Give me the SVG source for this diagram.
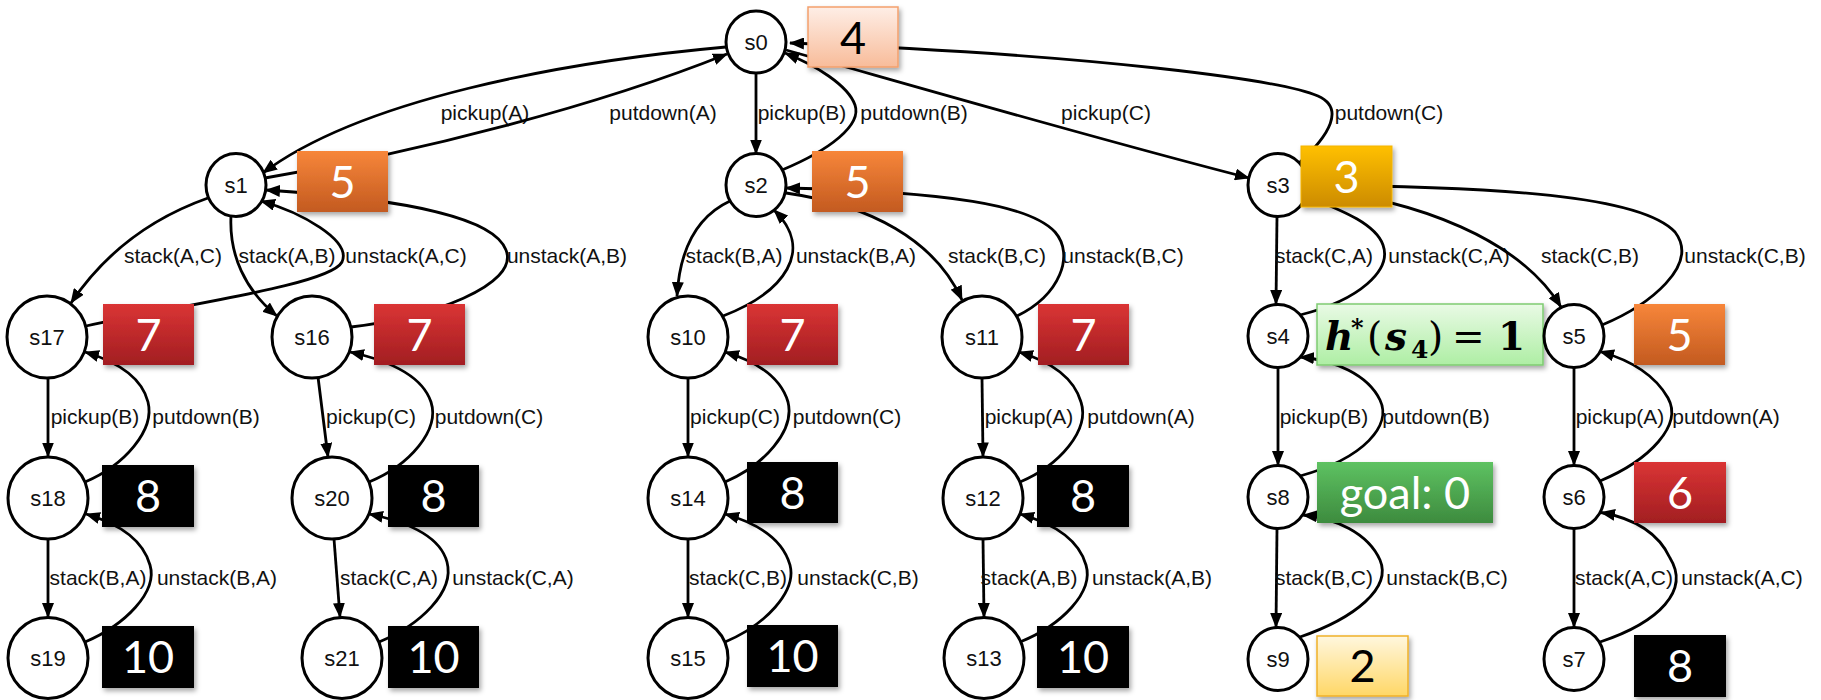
<svg xmlns="http://www.w3.org/2000/svg" width="1821" height="700" viewBox="0 0 1821 700">
  <defs>
    <style>
      .edge { fill: none; stroke: #000; stroke-width: 2.8; marker-end: url(#arr); }
      .lbl { font-family: "Liberation Sans", Arial, sans-serif; font-size: 21px; text-anchor: middle; fill: #111; }
      .st { fill: #fff; stroke: #000; stroke-width: 3; }
      .nlbl { font-family: "Liberation Sans", Arial, sans-serif; font-size: 22px; text-anchor: middle; fill: #111; }
      .box { filter: url(#sh); }
      .val { font-family: Lato, "Open Sans", sans-serif; font-size: 45px; text-anchor: middle; fill: #fff; }
      .dark { fill: #000; }
      .math { font-family: "DejaVu Serif", "Liberation Serif", serif; font-size: 39px; fill: #000; }
      .bi { font-style: italic; font-weight: bold; }
    </style>
    <marker id="arr" markerUnits="userSpaceOnUse" markerWidth="16" markerHeight="12" refX="14" refY="6" orient="auto">
      <path d="M0,0 L15,6 L0,12 z" fill="#000"/>
    </marker>
    <filter id="sh" x="-10%" y="-10%" width="130%" height="140%">
      <feDropShadow dx="2" dy="3" stdDeviation="2.5" flood-color="#000" flood-opacity="0.35"/>
    </filter>
    <linearGradient id="gPeach" x1="0" y1="0" x2="0" y2="1">
      <stop offset="0" stop-color="#FEEEE6"/>
      <stop offset="1" stop-color="#F8BC9A"/>
    </linearGradient>
    <linearGradient id="gOrange" x1="0" y1="0" x2="0" y2="1">
      <stop offset="0" stop-color="#F7863A"/>
      <stop offset="1" stop-color="#C35A20"/>
    </linearGradient>
    <linearGradient id="gGold" x1="0" y1="0" x2="0" y2="1">
      <stop offset="0" stop-color="#FFC000"/>
      <stop offset="1" stop-color="#CC8B00"/>
    </linearGradient>
    <linearGradient id="gRed" x1="0" y1="0" x2="0" y2="1">
      <stop offset="0" stop-color="#DA3434"/>
      <stop offset="1" stop-color="#A21E22"/>
    </linearGradient>
    <linearGradient id="gMint" x1="0" y1="0" x2="0" y2="1">
      <stop offset="0" stop-color="#E9FAE5"/>
      <stop offset="1" stop-color="#AEEEA4"/>
    </linearGradient>
    <linearGradient id="gGreen" x1="0" y1="0" x2="0" y2="1">
      <stop offset="0" stop-color="#5EC262"/>
      <stop offset="1" stop-color="#3D8B3E"/>
    </linearGradient>
    <linearGradient id="gCream" x1="0" y1="0" x2="0" y2="1">
      <stop offset="0" stop-color="#FFF7DE"/>
      <stop offset="1" stop-color="#FFD766"/>
    </linearGradient>
  </defs>

  <rect width="1821" height="700" fill="#fff"/>

  <!-- transitions between states -->
  <g id="connectors">
    <path class="edge" d="M726,47 C560,62 360,100 263,173"/>
    <text class="lbl" x="485" y="120">pickup(A)</text>
    <path class="edge" d="M265,178 C420,152 600,105 727,54"/>
    <text class="lbl" x="663" y="120">putdown(A)</text>
    <path class="edge" d="M756,73.5 L756,153.5"/>
    <text class="lbl" x="802" y="120">pickup(B)</text>
    <path class="edge" d="M782,170 C830,150 862,125 855,105 C848,85 815,65 785,53"/>
    <text class="lbl" x="914" y="120">putdown(B)</text>
    <path class="edge" d="M786,50 C900,82 1100,140 1249,178"/>
    <text class="lbl" x="1106" y="120">pickup(C)</text>
    <path class="edge" d="M1299,163 C1330,135 1345,108 1318,96 C1280,80 1100,55 790,43"/>
    <text class="lbl" x="1389" y="120">putdown(C)</text>

    <path class="edge" d="M208,198 C160,215 110,245 71,303"/>
    <text class="lbl" x="173" y="263">stack(A,C)</text>
    <path class="edge" d="M231,216 C229,255 245,290 277,316"/>
    <text class="lbl" x="287" y="263">stack(A,B)</text>
    <path class="edge" d="M86,326 C180,305 330,285 342,262 C352,240 300,212 261,201"/>
    <text class="lbl" x="406" y="263">unstack(A,C)</text>
    <path class="edge" d="M351,327 C430,318 520,285 506,250 C495,220 420,200 266,190"/>
    <text class="lbl" x="567" y="263">unstack(A,B)</text>
    <path class="edge" d="M730,201 C700,215 680,245 677,296"/>
    <text class="lbl" x="734" y="263">stack(B,A)</text>
    <path class="edge" d="M723,316 C785,292 815,250 774,210"/>
    <text class="lbl" x="856" y="263">unstack(B,A)</text>
    <path class="edge" d="M786,193 C870,205 935,240 962,300"/>
    <text class="lbl" x="997" y="263">stack(B,C)</text>
    <path class="edge" d="M1017,316 C1060,295 1075,255 1055,232 C1030,205 950,192 786,188"/>
    <text class="lbl" x="1123" y="263">unstack(B,C)</text>
    <path class="edge" d="M1277,216.5 L1276,304"/>
    <text class="lbl" x="1324" y="263">stack(C,A)</text>
    <path class="edge" d="M1300,315 C1360,300 1392,270 1383,245 C1375,222 1335,208 1306,196"/>
    <text class="lbl" x="1449" y="263">unstack(C,A)</text>
    <path class="edge" d="M1306,188 C1420,200 1520,240 1561,307"/>
    <text class="lbl" x="1590" y="263">stack(C,B)</text>
    <path class="edge" d="M1602,325 C1650,305 1700,265 1675,232 C1640,195 1500,187 1308,185"/>
    <text class="lbl" x="1745" y="263">unstack(C,B)</text>

    <path class="edge" d="M48,378 L48,456.5"/>
    <text class="lbl" x="95" y="424">pickup(B)</text>
    <path class="edge" d="M85,482 C125,465 155,430 148,402 C142,378 118,362 85,352"/>
    <text class="lbl" x="206" y="424">putdown(B)</text>
    <path class="edge" d="M318,377 L328,457"/>
    <text class="lbl" x="371" y="424">pickup(C)</text>
    <path class="edge" d="M369,482 C410,465 440,430 431,402 C423,378 395,362 350,352"/>
    <text class="lbl" x="489" y="424">putdown(C)</text>
    <path class="edge" d="M688,378 L688,456.5"/>
    <text class="lbl" x="735" y="424">pickup(C)</text>
    <path class="edge" d="M725,482 C765,465 795,430 788,402 C781,378 758,362 725,352"/>
    <text class="lbl" x="847" y="424">putdown(C)</text>
    <path class="edge" d="M982,378 L983,456.5"/>
    <text class="lbl" x="1029" y="424">pickup(A)</text>
    <path class="edge" d="M1020,482 C1060,465 1090,430 1081,402 C1074,378 1052,362 1019,352"/>
    <text class="lbl" x="1141" y="424">putdown(A)</text>
    <path class="edge" d="M1278,367.5 L1278,465"/>
    <text class="lbl" x="1324" y="424">pickup(B)</text>
    <path class="edge" d="M1300,476 C1365,458 1392,425 1380,400 C1368,375 1335,360 1300,357"/>
    <text class="lbl" x="1436" y="424">putdown(B)</text>
    <path class="edge" d="M1574,367.5 L1574,465"/>
    <text class="lbl" x="1620" y="424">pickup(A)</text>
    <path class="edge" d="M1600,481 C1650,460 1683,425 1668,398 C1655,375 1630,360 1600,351.5"/>
    <text class="lbl" x="1726" y="424">putdown(A)</text>

    <path class="edge" d="M48,539 L48,617"/>
    <text class="lbl" x="98" y="585">stack(B,A)</text>
    <path class="edge" d="M85,642 C125,625 158,592 150,565 C143,540 120,524 86,514"/>
    <text class="lbl" x="217" y="585">unstack(B,A)</text>
    <path class="edge" d="M334,539 L340,617"/>
    <text class="lbl" x="389" y="585">stack(C,A)</text>
    <path class="edge" d="M379,642 C420,625 455,592 447,562 C440,536 408,522 369,514"/>
    <text class="lbl" x="513" y="585">unstack(C,A)</text>
    <path class="edge" d="M688,539 L688,617"/>
    <text class="lbl" x="738" y="585">stack(C,B)</text>
    <path class="edge" d="M725,642 C765,625 797,592 790,565 C783,540 760,524 725,514"/>
    <text class="lbl" x="858" y="585">unstack(C,B)</text>
    <path class="edge" d="M983,539 L984,617"/>
    <text class="lbl" x="1029" y="585">stack(A,B)</text>
    <path class="edge" d="M1020,642 C1062,625 1094,592 1086,565 C1079,540 1055,524 1020,514"/>
    <text class="lbl" x="1152" y="585">unstack(A,B)</text>
    <path class="edge" d="M1277,528.5 L1276,627"/>
    <text class="lbl" x="1324" y="585">stack(B,C)</text>
    <path class="edge" d="M1300,637 C1355,618 1392,588 1380,560 C1368,533 1335,518 1303,515"/>
    <text class="lbl" x="1447" y="585">unstack(B,C)</text>
    <path class="edge" d="M1574,528.5 L1574,627"/>
    <text class="lbl" x="1624" y="585">stack(A,C)</text>
    <path class="edge" d="M1600,642 C1660,622 1690,590 1670,558 C1658,532 1632,518 1601,512.5"/>
    <text class="lbl" x="1742" y="585">unstack(A,C)</text>
  </g>

  <!-- states with their heuristic values -->
  <g id="s0">
    <ellipse class="st" cx="756" cy="42" rx="30" ry="31"/>
    <text class="nlbl" x="756" y="50">s0</text>
    <rect class="box" x="808" y="7" width="90" height="60" fill="url(#gPeach)" stroke="#F3A06C" stroke-width="1.5"/>
    <text class="val dark" x="853" y="54">4</text>
  </g>
  <g id="s1">
    <ellipse class="st" cx="236" cy="185" rx="30" ry="31.5"/>
    <text class="nlbl" x="236" y="193">s1</text>
    <rect class="box" x="297" y="151" width="91" height="61" fill="url(#gOrange)"/>
    <text class="val" x="342.5" y="198">5</text>
  </g>
  <g id="s2">
    <ellipse class="st" cx="756" cy="185" rx="30" ry="31.5"/>
    <text class="nlbl" x="756" y="193">s2</text>
    <rect class="box" x="812" y="151" width="91" height="61" fill="url(#gOrange)"/>
    <text class="val" x="857.5" y="198">5</text>
  </g>
  <g id="s3">
    <ellipse class="st" cx="1278" cy="185" rx="30" ry="31.5"/>
    <text class="nlbl" x="1278" y="193">s3</text>
    <rect class="box" x="1301" y="146" width="91" height="61" fill="url(#gGold)" stroke="#F4B400" stroke-width="1"/>
    <text class="val" x="1346.5" y="193">3</text>
  </g>
  <g id="s17">
    <ellipse class="st" cx="47" cy="337" rx="40" ry="41"/>
    <text class="nlbl" x="47" y="345">s17</text>
    <rect class="box" x="103" y="304" width="91" height="61" fill="url(#gRed)"/>
    <text class="val" x="148.5" y="351">7</text>
  </g>
  <g id="s16">
    <ellipse class="st" cx="312" cy="337" rx="40" ry="41"/>
    <text class="nlbl" x="312" y="345">s16</text>
    <rect class="box" x="374" y="304" width="91" height="61" fill="url(#gRed)"/>
    <text class="val" x="419.5" y="351">7</text>
  </g>
  <g id="s10">
    <ellipse class="st" cx="688" cy="337" rx="40" ry="41"/>
    <text class="nlbl" x="688" y="345">s10</text>
    <rect class="box" x="747" y="304" width="91" height="61" fill="url(#gRed)"/>
    <text class="val" x="792.5" y="351">7</text>
  </g>
  <g id="s11">
    <ellipse class="st" cx="982" cy="337" rx="40" ry="41"/>
    <text class="nlbl" x="982" y="345">s11</text>
    <rect class="box" x="1038" y="304" width="91" height="61" fill="url(#gRed)"/>
    <text class="val" x="1083.5" y="351">7</text>
  </g>
  <g id="s4">
    <ellipse class="st" cx="1278" cy="336" rx="30" ry="31.5"/>
    <text class="nlbl" x="1278" y="344">s4</text>
    <rect class="box" x="1317" y="304" width="226" height="61" fill="url(#gMint)" stroke="#7FCB72" stroke-width="1.5"/>
    <text class="math" y="350"><tspan class="bi" x="1325">h</tspan><tspan x="1351" dy="-14" font-size="24" font-weight="bold">*</tspan><tspan x="1367" dy="14">(</tspan><tspan class="bi" x="1385">s</tspan><tspan x="1411" dy="8" font-size="25" font-weight="bold">4</tspan><tspan x="1428" dy="-8">)</tspan><tspan x="1452">=</tspan><tspan x="1498" font-weight="bold">1</tspan></text>
  </g>
  <g id="s5">
    <ellipse class="st" cx="1574" cy="336" rx="30" ry="31.5"/>
    <text class="nlbl" x="1574" y="344">s5</text>
    <rect class="box" x="1634" y="304" width="91" height="61" fill="url(#gOrange)"/>
    <text class="val" x="1679.5" y="351">5</text>
  </g>
  <g id="s18">
    <ellipse class="st" cx="48" cy="498" rx="40" ry="41"/>
    <text class="nlbl" x="48" y="506">s18</text>
    <rect class="box" x="102" y="465" width="92" height="62" fill="#000"/>
    <text class="val" x="148" y="512">8</text>
  </g>
  <g id="s20">
    <ellipse class="st" cx="332" cy="498" rx="40" ry="41"/>
    <text class="nlbl" x="332" y="506">s20</text>
    <rect class="box" x="388" y="465" width="91" height="62" fill="#000"/>
    <text class="val" x="433.5" y="512">8</text>
  </g>
  <g id="s14">
    <ellipse class="st" cx="688" cy="498" rx="40" ry="41"/>
    <text class="nlbl" x="688" y="506">s14</text>
    <rect class="box" x="747" y="462" width="91" height="61" fill="#000"/>
    <text class="val" x="792.5" y="509">8</text>
  </g>
  <g id="s12">
    <ellipse class="st" cx="983" cy="498" rx="40" ry="41"/>
    <text class="nlbl" x="983" y="506">s12</text>
    <rect class="box" x="1037" y="465" width="92" height="62" fill="#000"/>
    <text class="val" x="1083" y="512">8</text>
  </g>
  <g id="s8">
    <ellipse class="st" cx="1278" cy="497" rx="30" ry="31.5"/>
    <text class="nlbl" x="1278" y="505">s8</text>
    <rect class="box" x="1317" y="462" width="176" height="61" fill="url(#gGreen)"/>
    <text class="val" x="1405" y="509" font-size="47">goal: 0</text>
  </g>
  <g id="s6">
    <ellipse class="st" cx="1574" cy="497" rx="30" ry="31.5"/>
    <text class="nlbl" x="1574" y="505">s6</text>
    <rect class="box" x="1634" y="462" width="92" height="61" fill="url(#gRed)"/>
    <text class="val" x="1680" y="509">6</text>
  </g>
  <g id="s19">
    <ellipse class="st" cx="48" cy="658" rx="40" ry="40.5"/>
    <text class="nlbl" x="48" y="666">s19</text>
    <rect class="box" x="102" y="626" width="92" height="62" fill="#000"/>
    <text class="val" x="148" y="673">10</text>
  </g>
  <g id="s21">
    <ellipse class="st" cx="342" cy="658" rx="40" ry="40.5"/>
    <text class="nlbl" x="342" y="666">s21</text>
    <rect class="box" x="388" y="626" width="91" height="62" fill="#000"/>
    <text class="val" x="433.5" y="673">10</text>
  </g>
  <g id="s15">
    <ellipse class="st" cx="688" cy="658" rx="40" ry="40.5"/>
    <text class="nlbl" x="688" y="666">s15</text>
    <rect class="box" x="747" y="625" width="91" height="62" fill="#000"/>
    <text class="val" x="792.5" y="672">10</text>
  </g>
  <g id="s13">
    <ellipse class="st" cx="984" cy="658" rx="40" ry="40.5"/>
    <text class="nlbl" x="984" y="666">s13</text>
    <rect class="box" x="1037" y="626" width="92" height="62" fill="#000"/>
    <text class="val" x="1083" y="673">10</text>
  </g>
  <g id="s9">
    <ellipse class="st" cx="1278" cy="659" rx="30" ry="31.5"/>
    <text class="nlbl" x="1278" y="667">s9</text>
    <rect class="box" x="1317" y="636" width="91" height="60" fill="url(#gCream)" stroke="#F0B12A" stroke-width="1.5"/>
    <text class="val dark" x="1362.5" y="682">2</text>
  </g>
  <g id="s7">
    <ellipse class="st" cx="1574" cy="659" rx="30" ry="31.5"/>
    <text class="nlbl" x="1574" y="667">s7</text>
    <rect class="box" x="1634" y="635" width="92" height="62" fill="#000"/>
    <text class="val" x="1680" y="682">8</text>
  </g>
</svg>
